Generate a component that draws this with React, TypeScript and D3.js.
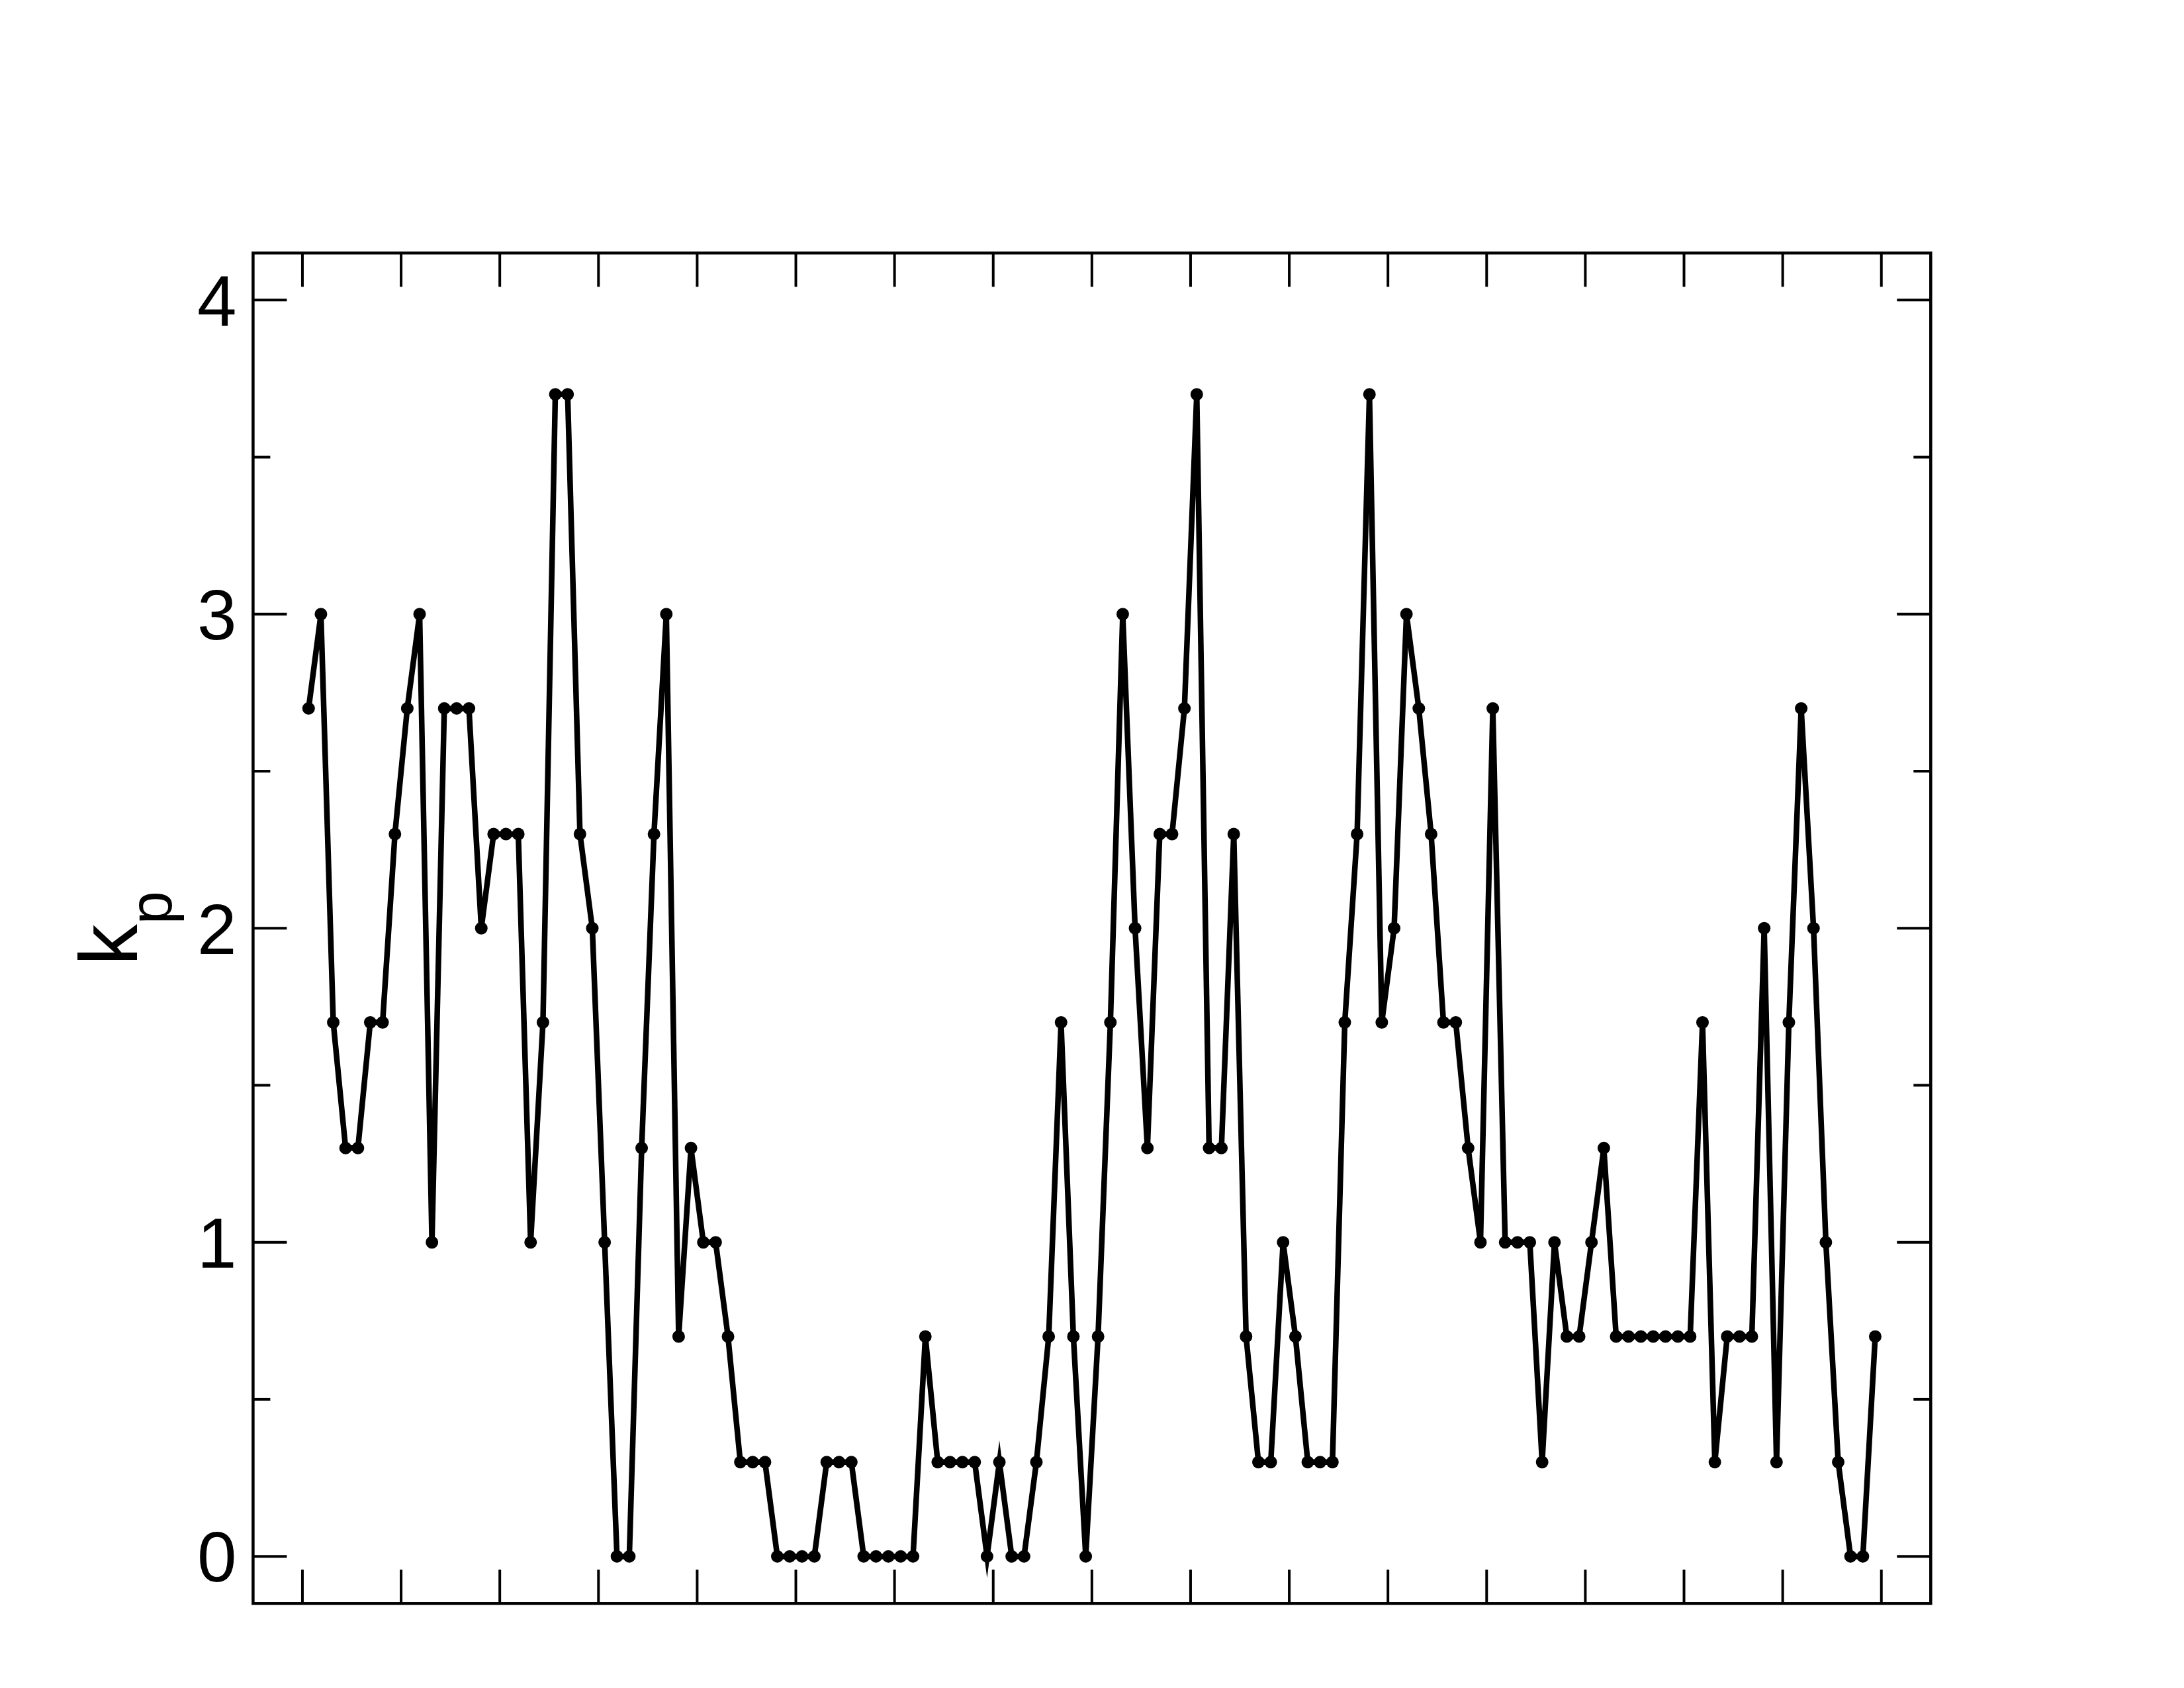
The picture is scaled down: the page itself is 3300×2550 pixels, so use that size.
import React from "react";
import * as d3 from "d3";

// Kp index, 3-hourly values over 16 days
const kpValues: number[] = [
  2.7, 3.0, 1.7, 1.3, 1.3, 1.7, 1.7, 2.3, 2.7, 3.0,
  1.0, 2.7, 2.7, 2.7, 2.0, 2.3, 2.3, 2.3, 1.0, 1.7,
  3.7, 3.7, 2.3, 2.0, 1.0, 0, 0, 1.3, 2.3, 3.0,
  0.7, 1.3, 1.0, 1.0, 0.7, 0.3, 0.3, 0.3, 0, 0,
  0, 0, 0.3, 0.3, 0.3, 0, 0, 0, 0, 0,
  0.7, 0.3, 0.3, 0.3, 0.3, 0, 0.3, 0, 0, 0.3,
  0.7, 1.7, 0.7, 0, 0.7, 1.7, 3.0, 2.0, 1.3, 2.3,
  2.3, 2.7, 3.7, 1.3, 1.3, 2.3, 0.7, 0.3, 0.3, 1.0,
  0.7, 0.3, 0.3, 0.3, 1.7, 2.3, 3.7, 1.7, 2.0, 3.0,
  2.7, 2.3, 1.7, 1.7, 1.3, 1.0, 2.7, 1.0, 1.0, 1.0,
  0.3, 1.0, 0.7, 0.7, 1.0, 1.3, 0.7, 0.7, 0.7, 0.7,
  0.7, 0.7, 0.7, 1.7, 0.3, 0.7, 0.7, 0.7, 2.0, 0.3,
  1.7, 2.7, 2.0, 1.0, 0.3, 0, 0, 0.7,
];

const samplesPerDay = 8;
const xTicks: number[] = [0, 1, 2, 3, 4, 5, 6, 7, 8, 9, 10, 11, 12, 13, 14, 15, 16];
const yMajorTicks: number[] = [0, 1, 2, 3, 4];
const yMinorTicks: number[] = [0.5, 1.5, 2.5, 3.5];
const yTickLabels: string[] = ["0", "1", "2", "3", "4"];

export default function App() {
  const W = 3300;
  const H = 2550;
  const left = 382.4;
  const right = 2917.3;
  const top = 382.2;
  const bottom = 2422.3;

  const x = d3.scaleLinear().domain([-0.5, 16.5]).range([left, right]);
  const y = d3.scaleLinear().domain([-0.15, 4.15]).range([bottom, top]);

  const pts = kpValues.map((v, i) => ({ t: (i + 0.5) / samplesPerDay, v }));
  const line = d3
    .line<{ t: number; v: number }>()
    .x((d) => x(d.t))
    .y((d) => y(d.v));

  const major = 51;
  const minor = 26;
  const tickW = 4;
  const font = "'Liberation Sans', Arial, Helvetica, sans-serif";

  return (
    <svg
      width={W}
      height={H}
      viewBox={`0 0 ${W} ${H}`}
      style={{ position: "absolute", left: 0, top: 0, background: "#fff" }}
    >
      <rect x={0} y={0} width={W} height={H} fill="#fff" />
      {xTicks.map((t) => (
        <g key={"xt" + t}>
          <line x1={x(t)} x2={x(t)} y1={bottom} y2={bottom - major} stroke="#000" strokeWidth={tickW} />
          <line x1={x(t)} x2={x(t)} y1={top} y2={top + major} stroke="#000" strokeWidth={tickW} />
        </g>
      ))}
      {yMajorTicks.map((t) => (
        <g key={"yt" + t}>
          <line x1={left} x2={left + major} y1={y(t)} y2={y(t)} stroke="#000" strokeWidth={tickW} />
          <line x1={right} x2={right - major} y1={y(t)} y2={y(t)} stroke="#000" strokeWidth={tickW} />
        </g>
      ))}
      {yMinorTicks.map((t) => (
        <g key={"ym" + t}>
          <line x1={left} x2={left + minor} y1={y(t)} y2={y(t)} stroke="#000" strokeWidth={tickW} />
          <line x1={right} x2={right - minor} y1={y(t)} y2={y(t)} stroke="#000" strokeWidth={tickW} />
        </g>
      ))}
      {yMajorTicks.map((t, i) => (
        <text
          key={"yl" + t}
          x={left - 25}
          y={y(t)}
          dy="0.358em"
          textAnchor="end"
          fontFamily={font}
          fontSize={107}
          fill="#000"
        >
          {yTickLabels[i]}
        </text>
      ))}
      <text
        transform={`translate(207,${(top + bottom) / 2}) rotate(-90)`}
        textAnchor="middle"
        fontFamily={font}
        fill="#000"
      >
        <tspan fontSize={124}>k</tspan>
        <tspan fontSize={90} dy={52}>p</tspan>
      </text>
      <path
        d={line(pts) || ""}
        fill="none"
        stroke="#000"
        strokeWidth={8.5}
        strokeLinejoin="miter"
        strokeMiterlimit={9}
      />
      {pts.map((p, i) => (
        <circle key={"p" + i} cx={x(p.t)} cy={y(p.v)} r={9.5} fill="#000" />
      ))}
      <rect
        x={left}
        y={top}
        width={right - left}
        height={bottom - top}
        fill="none"
        stroke="#000"
        strokeWidth={4.5}
      />
    </svg>
  );
}
